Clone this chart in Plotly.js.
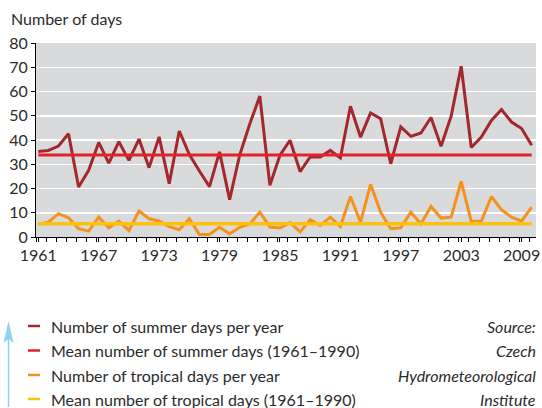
<!DOCTYPE html>
<html>
<head>
<meta charset="utf-8">
<script src="https://cdn.plot.ly/plotly-3.0.1.min.js"></script>
<style>html,body{margin:0;padding:0;background:#fff;}#chart{width:542px;height:408px;}</style>
</head>
<body>
<div id="chart"></div>
<script>
// ---- data ----
var years = [];
for (var y = 1961; y <= 2010; y++) years.push(y);

var summerDays = [35.3, 35.7, 37.5, 42.6, 20.6, 27.5, 39.0, 30.5, 39.3, 31.6,
                  40.4, 28.6, 41.3, 22.0, 43.7, 34.0, 27.2, 20.8, 35.1, 15.4,
                  33.8, 46.6, 58.1, 21.3, 33.7, 39.9, 27.0, 33.0, 33.0, 35.7,
                  32.6, 53.9, 41.2, 51.2, 48.8, 30.2, 45.4, 41.5, 42.9, 49.3,
                  37.4, 49.8, 70.4, 36.9, 41.2, 48.1, 52.6, 47.4, 44.7, 37.8];

var tropicalDays = [5.2, 6.1, 9.6, 7.9, 3.4, 2.4, 8.2, 3.8, 6.5, 2.7,
                    10.7, 7.5, 6.6, 4.3, 3.0, 7.5, 1.0, 1.0, 4.0, 1.3,
                    4.0, 5.4, 10.2, 4.1, 3.7, 5.9, 2.1, 7.1, 4.8, 8.2,
                    4.3, 16.7, 6.1, 21.7, 10.2, 3.4, 3.8, 10.2, 5.4, 12.6,
                    7.8, 8.2, 22.9, 6.4, 6.6, 16.7, 11.2, 8.2, 6.5, 12.3];

var meanSummer = 33.8;    // mean 1961-1990
var meanTropical = 5.5;   // mean 1961-1990

var tickYears = [1961, 1967, 1973, 1979, 1985, 1991, 1997, 2003, 2009];

var seriesNames = [
  "Number of summer days per year",
  "Mean number of summer days (1961\u20131990)",
  "Number of tropical days per year",
  "Mean number of tropical days (1961\u20131990)"
];
var seriesColors = ["#a3282e", "#e2232b", "#f5921e", "#fdc10e"];
var sourceLines = ["Source:", "Czech", "Hydrometeorological", "Institute"];

// ---- layout helpers ----
var L = 36, W = 500, T = 43, H = 194;
function px(x) { return (x - L) / W; }
function py(y) { return (T + H - y) / H; }

var FONT = "Lato, 'Open Sans', sans-serif";
var TXT = "#2b2b2b";

var first = years[0], last = years[years.length - 1];

var traces = [
  {x: years, y: summerDays, name: seriesNames[0], mode: "lines",
   line: {color: seriesColors[0], width: 3}},
  {x: [first, last], y: [meanSummer, meanSummer], name: seriesNames[1], mode: "lines",
   line: {color: seriesColors[1], width: 3}},
  {x: years, y: tropicalDays, name: seriesNames[2], mode: "lines",
   line: {color: seriesColors[2], width: 3}},
  {x: [first, last], y: [meanTropical, meanTropical], name: seriesNames[3], mode: "lines",
   line: {color: seriesColors[3], width: 3.5}}
];

var annotations = [];
var shapes = [];

// title
annotations.push({xref: "paper", yref: "paper", x: px(9), y: py(18), xanchor: "left", yanchor: "middle",
  text: "Number of days", showarrow: false, font: {family: FONT, size: 16, color: TXT}});

// legend rows
var rowY = [326, 350.5, 375, 399];
for (var i = 0; i < 4; i++) {
  shapes.push({type: "line", xref: "paper", yref: "paper",
    x0: px(28), x1: px(40), y0: py(rowY[i]), y1: py(rowY[i]),
    line: {color: seriesColors[i], width: 2.5}});
  annotations.push({xref: "paper", yref: "paper", x: px(49), y: py(rowY[i]), xanchor: "left", yanchor: "middle",
    text: seriesNames[i], showarrow: false, font: {family: FONT, size: 16, color: TXT}});
  annotations.push({xref: "paper", yref: "paper", x: px(538), y: py(rowY[i]), xanchor: "right", yanchor: "middle",
    text: "<i>" + sourceLines[i] + "</i>", showarrow: false, font: {family: FONT, size: 16, color: TXT}});
}

// blue arrow at the left of the legend
shapes.push({type: "line", xref: "paper", yref: "paper",
  x0: px(8.5), x1: px(8.5), y0: py(338), y1: py(407),
  line: {color: "#8fd1ee", width: 1.5}});
shapes.push({type: "path", xref: "paper", yref: "paper",
  path: "M " + px(3.5) + " " + py(343) + " L " + px(8.5) + " " + py(321) + " L " + px(13.5) + " " + py(343) +
        " L " + px(8.5) + " " + py(339) + " Z",
  fillcolor: "#8fd1ee", line: {width: 0}});

var layout = {
  width: 542, height: 408,
  margin: {l: L, r: 542 - L - W, t: T, b: 408 - T - H, pad: 0},
  paper_bgcolor: "#ffffff",
  plot_bgcolor: "#d9dadb",
  showlegend: false,
  font: {family: FONT, size: 16, color: TXT},
  xaxis: {
    range: [1960.77, 2010.43],
    tickmode: "array", tickvals: tickYears, ticktext: tickYears.map(String),
    ticks: "outside", ticklen: 4, tickcolor: "#000", tickwidth: 1,
    minor: {tick0: 1960.77, dtick: 1, ticks: "outside", ticklen: 4, tickcolor: "#000", tickwidth: 1, showgrid: false},
    showgrid: false, zeroline: false,
    showline: true, linecolor: "#000", linewidth: 1,
    tickfont: {family: FONT, size: 16, color: TXT}
  },
  yaxis: {
    range: [0, 80], dtick: 10, tick0: 0,
    ticks: "outside", ticklen: 4, tickcolor: "#000", tickwidth: 1,
    showgrid: true, gridcolor: "#ffffff", gridwidth: 1.5,
    zeroline: false, showline: true, linecolor: "#000", linewidth: 1,
    tickfont: {family: FONT, size: 16, color: TXT}
  },
  annotations: annotations,
  shapes: shapes
};

Plotly.newPlot("chart", traces, layout, {staticPlot: true, displayModeBar: false});
</script>
</body>
</html>
